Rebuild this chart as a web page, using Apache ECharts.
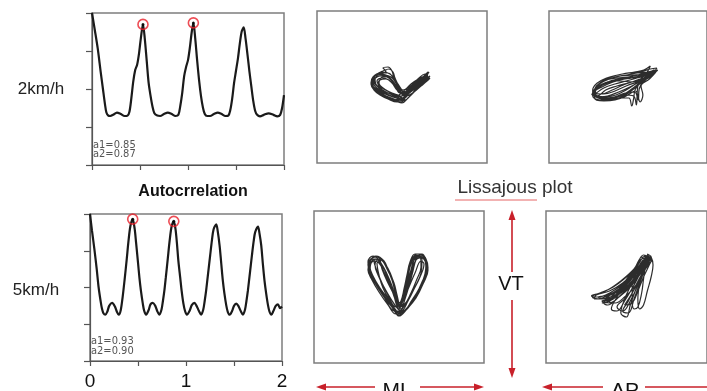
<!DOCTYPE html>
<html><head><meta charset="utf-8">
<script src="https://cdn.jsdelivr.net/npm/echarts@6/dist/echarts.min.js"></script>
<style>html,body{margin:0;padding:0;background:#fff}#c{width:707px;height:391px}</style>
</head><body><div id="c"></div>
<script>
// ---- Autocorrelation data (lag in s, coefficient) ----
const acf2Lag = [0,0.03,0.06,0.09,0.115,0.135,0.15,0.17,0.19,0.22,0.26,0.30,0.34,0.37,0.39,0.41,0.43,0.45,0.47,0.49,0.51,0.531,0.55,0.57,0.59,0.61,0.63,0.65,0.68,0.71,0.75,0.79,0.83,0.87,0.90,0.92,0.94,0.96,0.98,1.00,1.02,1.04,1.056,1.075,1.095,1.115,1.135,1.155,1.175,1.20,1.23,1.27,1.31,1.35,1.39,1.42,1.44,1.46,1.48,1.50,1.52,1.54,1.56,1.58,1.60,1.62,1.64,1.66,1.68,1.70,1.72,1.75,1.79,1.84,1.89,1.93,1.96,1.98,2.0];
const acf2Val = [1.0,0.77,0.53,0.23,-0.01,-0.2,-0.31,-0.35,-0.355,-0.34,-0.31,-0.33,-0.355,-0.35,-0.3,-0.12,0.10,0.25,0.32,0.47,0.68,0.85,0.66,0.37,0.08,-0.09,-0.23,-0.32,-0.35,-0.355,-0.33,-0.31,-0.33,-0.355,-0.34,-0.22,-0.05,0.17,0.29,0.38,0.55,0.76,0.87,0.67,0.38,0.12,-0.09,-0.24,-0.33,-0.355,-0.355,-0.33,-0.31,-0.33,-0.355,-0.35,-0.28,-0.13,0.08,0.24,0.40,0.60,0.76,0.81,0.66,0.45,0.23,0.03,-0.16,-0.29,-0.34,-0.36,-0.34,-0.32,-0.34,-0.36,-0.34,-0.25,-0.08];
const acf5Lag = [0,0.02,0.045,0.07,0.09,0.11,0.125,0.14,0.16,0.18,0.20,0.23,0.26,0.28,0.30,0.32,0.34,0.36,0.383,0.40,0.42,0.445,0.465,0.48,0.50,0.515,0.53,0.55,0.565,0.584,0.61,0.63,0.654,0.68,0.70,0.723,0.745,0.76,0.775,0.79,0.81,0.83,0.85,0.873,0.89,0.905,0.92,0.94,0.955,0.973,0.99,1.009,1.04,1.06,1.088,1.11,1.135,1.158,1.18,1.195,1.21,1.23,1.252,1.27,1.287,1.315,1.33,1.35,1.367,1.384,1.40,1.419,1.435,1.455,1.48,1.50,1.523,1.545,1.57,1.593,1.615,1.63,1.645,1.665,1.687,1.705,1.72,1.75,1.765,1.784,1.80,1.818,1.835,1.854,1.87,1.889,1.91,1.935,1.958,1.98,2.0];
const acf5Val = [1.0,0.78,0.53,0.25,0.0,-0.18,-0.29,-0.35,-0.37,-0.33,-0.25,-0.21,-0.26,-0.33,-0.37,-0.31,-0.13,0.10,0.39,0.62,0.83,0.93,0.80,0.61,0.34,0.13,-0.04,-0.22,-0.32,-0.37,-0.31,-0.23,-0.21,-0.25,-0.32,-0.37,-0.30,-0.18,-0.04,0.14,0.39,0.64,0.83,0.90,0.80,0.61,0.37,0.13,-0.05,-0.22,-0.32,-0.37,-0.31,-0.24,-0.21,-0.25,-0.32,-0.37,-0.30,-0.18,-0.04,0.19,0.44,0.64,0.79,0.86,0.77,0.57,0.33,0.09,-0.08,-0.24,-0.33,-0.37,-0.32,-0.25,-0.22,-0.25,-0.32,-0.37,-0.30,-0.18,-0.04,0.19,0.44,0.63,0.75,0.83,0.74,0.57,0.33,0.09,-0.08,-0.24,-0.33,-0.37,-0.32,-0.25,-0.23,-0.28,-0.26];
const peak2Lag = [0.531, 1.056];
const peak2Val = [0.85, 0.87];
const peak5Lag = [0.445, 0.873];
const peak5Val = [0.93, 0.90];
const lagTickLabels = ['0', '1', '2'];
const coefText2 = ['a1=0.85', 'a2=0.87'];
const coefText5 = ['a1=0.93', 'a2=0.90'];

// ---- Lissajous traces [horizontal, VT] ----
const lissML2 = [
 [0,-12],[-9,-10],[-19,-6],[-27,-1],[-31,4],[-29,10],[-22,14],[-14,14],[-8,8],[-4,0],[1,-6],[8,-3],[15,3],[21,8],[26,13],[23,10],[15,3],[7,-5],[1,-13],
 [-4,-14],[-14,-11],[-23,-6],[-29,0],[-30,7],[-26,12],[-19,16],[-13,18],[-9,15],[-7,9],[-3,1],[2,-5],[9,-1],[16,5],[22,10],[27,15],[22,8],[13,0],[5,-8],[-1,-15],
 [-8,-12],[-18,-8],[-26,-3],[-30,2],[-28,8],[-22,11],[-15,10],[-9,5],[-4,-2],[2,-8],[10,-4],[17,2],[23,7],[28,11],[22,5],[14,-2],[8,-9],[2,-14],
 [-2,-10],[-12,-7],[-21,-2],[-27,3],[-28,9],[-24,13],[-18,14],[-16,16],[-19,19],[-14,20],[-10,16],[-8,9],[-4,3],[1,-3],[7,0],[14,5],[20,9],[25,12],[20,7],[12,-1],[4,-9],
 [-5,-15],[-14,-12],[-22,-8],[-28,-3],[-31,3],[-29,9],[-23,13],[-16,12],[-10,7],[-5,0],[0,-7],[8,-3],[15,2],[21,6],[26,10],[23,13],[17,9],[10,2],[4,-7],[-1,-12],
 [-9,-10],[-18,-5],[-25,1],[-27,7],[-23,12],[-16,11],[-9,5],[-3,-3],[3,-8],[11,-3],[18,3],[24,8],[20,4],[13,-4],[6,-11],[0,-16],[-6,-13],
 [-3,-11],[-13,-8],[-22,-3],[-28,2],[-29,8],[-25,13],[-19,15],[-12,13],[-7,7],[-3,-1],[2,-5],[9,0],[16,6],[22,11],[26,15],[24,12],[17,6],[9,-3],[3,-11],
 [-6,-13],[-16,-9],[-24,-4],[-29,1],[-29,6],[-25,10],[-18,12],[-11,10],[-6,4],[-2,-4],[4,-9],[12,-5],[19,1],[25,6],[28,9],[24,6],[16,-1],[9,-8],[3,-13],
 [-2,-9],[-10,-6],[-18,-2],[-24,2],[-22,7],[-16,8],[-10,4],[-5,-3],[2,-7],[10,-1],[18,5],[25,10],[19,7],[11,1],[4,-6],
 [-4,-10],[-13,-5],[-21,0],[-25,6],[-20,9],[-13,7],[-7,1],[-2,-6],[6,-5],[13,0],[20,6],[26,11],[21,10],[14,5],[6,-2],[0,-9],
 [-7,-8],[-16,-3],[-23,4],[-19,10],[-11,10],[-6,4],[0,-3],[7,-2],[15,4],[23,11],[18,9],[9,3],[2,-4],[-3,-8]];
const lissAP2 = [
 [-37,-6],[-34,1],[-26,6],[-14,10],[-2,12],[10,14],[21,15],[29,17],[24,11],[14,5],[4,-2],[-6,-8],[-18,-12],[-30,-13],[-38,-9],
 [-38,-3],[-33,4],[-23,9],[-11,12],[1,14],[13,15],[24,18],[31,19],[26,12],[16,6],[8,-2],[6,-12],[4,-19],[1,-11],[-9,-11],[-22,-13],[-35,-10],
 [-37,-8],[-32,-1],[-22,4],[-10,7],[3,9],[15,11],[25,13],[20,8],[10,2],[0,-5],[-11,-10],[-23,-12],[-34,-10],
 [-35,-2],[-29,5],[-18,10],[-6,13],[7,15],[17,17],[24,21],[20,14],[12,6],[10,-4],[9,-18],[6,-9],[-4,-8],[-16,-11],[-28,-12],[-37,-7],
 [-39,-8],[-35,-1],[-26,3],[-15,6],[-3,8],[9,10],[21,13],[30,15],[23,8],[14,1],[16,-8],[13,-15],[8,-4],[-2,-9],[-14,-13],[-26,-14],[-36,-11],
 [-36,-4],[-31,3],[-20,8],[-8,11],[5,12],[17,13],[28,17],[22,11],[12,3],[2,-5],[-10,-11],[-24,-13],[-35,-9],
 [-37,-5],[-32,2],[-24,7],[-12,9],[0,10],[12,12],[23,14],[18,9],[8,3],[-2,-3],[-13,-8],[-25,-10],[-36,-8],
 [-38,-7],[-33,0],[-22,5],[-10,8],[2,10],[14,13],[26,15],[32,17],[27,13],[18,8],[12,-2],[11,-13],[7,-5],[-3,-6],[-15,-10],[-27,-11],[-37,-8],
 [-34,-6],[-26,-1],[-14,3],[-2,6],[10,9],[22,12],[30,15],[22,9],[10,5],[-2,1],[-14,-4],[-26,-7],[-35,-7],
 [-36,-5],[-28,0],[-16,5],[-4,8],[8,10],[20,13],[27,15],[19,10],[7,6],[-5,2],[-17,-3],[-29,-7],[-37,-6],
 [-33,-9],[-24,-3],[-12,1],[0,4],[12,7],[24,11],[14,6],[2,0],[-10,-5],[-22,-9],[-34,-10],
 [-35,-4],[-28,2],[-18,6],[-8,6],[4,5],[16,8],[28,14],[20,12],[8,9],[-4,9],[-14,7],[-26,3],[-36,-2]];
const lissML5 = [
 [-2,-26],[-12,-14],[-21,0],[-28,12],[-31,22],[-27,29],[-21,30],[-13,22],[-8,12],[-4,0],[-2,-12],[1,-20],[4,-10],[7,3],[10,16],[13,28],[19,33],[25,31],[28,23],[26,11],[20,-2],[12,-15],[3,-25],
 [-5,-24],[-15,-10],[-24,4],[-30,16],[-31,25],[-26,31],[-18,28],[-11,18],[-6,6],[-3,-6],[-1,-17],[2,-14],[5,-2],[8,12],[11,25],[16,33],[23,33],[27,27],[29,17],[25,5],[18,-8],[9,-20],[1,-28],
 [0,-28],[-9,-17],[-18,-4],[-25,8],[-29,18],[-28,27],[-23,31],[-15,26],[-10,15],[-5,4],[-2,-8],[1,-18],[4,-7],[8,6],[11,20],[15,30],[22,32],[27,28],[29,19],[26,8],[19,-6],[10,-19],[1,-27],
 [-4,-22],[-13,-11],[-22,1],[-28,13],[-30,21],[-26,28],[-18,27],[-12,18],[-7,7],[-4,-5],[-2,-16],[2,-15],[6,-3],[9,10],[12,23],[17,30],[24,29],[28,21],[27,10],[21,-1],[14,-12],[6,-23],
 [-3,-27],[-11,-18],[-20,-5],[-27,7],[-31,17],[-29,26],[-24,30],[-18,24],[-12,13],[-7,1],[-3,-12],[2,-22],[6,-12],[10,1],[14,16],[17,27],[21,31],[26,27],[27,16],[23,5],[16,-10],[7,-23],
 [-1,-25],[-10,-13],[-19,-1],[-26,11],[-29,20],[-25,26],[-20,24],[-15,15],[-10,4],[-5,-9],[-1,-20],[4,-11],[8,3],[12,17],[15,27],[20,30],[26,26],[28,15],[24,3],[17,-11],[8,-22],[0,-29],
 [-6,-21],[-16,-7],[-25,6],[-29,16],[-28,24],[-23,28],[-17,22],[-12,11],[-8,0],[-4,-12],[0,-19],[5,-9],[9,5],[13,19],[16,29],[22,32],[27,25],[26,13],[21,0],[13,-13],[4,-24],
 [-1,-22],[-8,-12],[-15,0],[-21,12],[-24,22],[-22,27],[-18,22],[-13,10],[-7,-2],[-3,-14],[1,-20],[5,-8],[9,6],[13,18],[17,27],[21,29],[22,20],[18,8],[12,-6],[5,-18],
 [-3,-20],[-11,-8],[-17,4],[-22,16],[-25,26],[-20,28],[-17,18],[-12,6],[-6,-6],[-2,-16],[3,-18],[7,-6],[11,8],[15,22],[19,31],[23,27],[22,14],[16,0],[9,-14],[2,-24],
 [-2,-24],[-9,-14],[-16,-1],[-20,12],[-22,24],[-19,25],[-15,14],[-9,2],[-4,-10],[0,-22],[4,-14],[10,0],[16,14],[22,26],[25,23],[21,10],[14,-4],[6,-18],[0,-26]];
const lissAP5 = [
 [22,30],[12,20],[0,10],[-14,0],[-28,-6],[-37,-9],[-30,-10],[-16,-5],[-2,4],[10,14],[18,24],[25,28],
 [20,28],[10,16],[-2,4],[-14,-8],[-24,-16],[-20,-18],[-8,-10],[4,0],[14,12],[22,22],[27,27],
 [18,32],[10,20],[0,6],[-10,-10],[-16,-22],[-10,-24],[-2,-14],[8,2],[16,16],[24,26],
 [21,30],[14,18],[6,4],[-2,-12],[-6,-26],[0,-30],[4,-18],[10,-2],[16,12],[22,24],[26,29],
 [16,28],[8,16],[-4,4],[-18,-4],[-32,-8],[-34,-12],[-22,-10],[-10,-4],[4,8],[14,18],[20,26],
 [24,29],[20,20],[18,8],[16,-6],[12,-20],[8,-22],[6,-12],[6,2],[10,14],[16,24],[22,31],
 [19,27],[10,14],[-2,0],[-16,-12],[-26,-14],[-18,-16],[-6,-8],[6,4],[14,16],[20,25],
 [23,32],[14,22],[4,10],[-8,-2],[-20,-8],[-30,-10],[-20,-12],[-6,-6],[8,6],[18,20],[26,30],
 [17,30],[8,18],[-6,6],[-20,-3],[-34,-8],[-36,-10],[-26,-12],[-12,-8],[2,2],[12,14],[19,24],
 [25,27],[18,16],[10,2],[2,-14],[-4,-24],[2,-26],[8,-12],[14,4],[20,18],[26,26],
 [20,31],[12,22],[2,10],[-10,-4],[-22,-12],[-12,-16],[-2,-10],[10,2],[18,16],[24,28],
 [22,33],[26,30],[28,22],[26,10],[22,-4],[18,-18],[14,-22],[12,-12],[14,4],[18,18],[22,30],
 [24,30],[15,20],[4,8],[-8,-4],[-18,-14],[-26,-16],[-14,-12],[-2,-2],[10,10],[20,22],
 [21,28],[14,16],[8,2],[0,-10],[-10,-20],[-4,-24],[4,-14],[12,2],[18,16],[23,27],
 [18,26],[10,14],[0,2],[-12,-6],[-24,-10],[-14,-10],[-4,-4],[8,8],[16,20],[22,29],
 [26,31],[20,22],[14,8],[6,-6],[-2,-18],[6,-16],[12,-4],[18,10],[24,22],[27,28]];

const zip = (a, b) => a.map((v, i) => [v, b[i]]);

const chart = echarts.init(document.getElementById('c'), null, {renderer: 'canvas'});

const frame = {show: true, borderColor: '#7d7d7d', borderWidth: 1.5, backgroundColor: '#fff'};
const grids = [
  Object.assign({left: 92, top: 13, width: 192, height: 152}, frame),
  Object.assign({left: 90, top: 214, width: 192, height: 152}, frame),
  Object.assign({left: 317, top: 11, width: 170, height: 152}, frame),
  Object.assign({left: 549, top: 11, width: 170, height: 152}, frame),
  Object.assign({left: 314, top: 211, width: 170, height: 152}, frame),
  Object.assign({left: 546, top: 211, width: 170, height: 152}, frame)
];

function acfX(gi, showLabels) {
  return {gridIndex: gi, type: 'value', min: 0, max: 2, interval: 0.5,
    axisLine: {show: true, onZero: false, lineStyle: {color: '#555', width: 1.2}},
    axisTick: {show: true, length: 5, lineStyle: {color: '#555', width: 1.2}},
    splitLine: {show: false},
    axisLabel: {show: showLabels, margin: 11, fontSize: 19, color: '#111', fontFamily: 'Liberation Sans',
      formatter: v => (Math.abs(v - Math.round(v)) < 1e-9 ? lagTickLabels[Math.round(v)] : '')}};
}
function acfY(gi) {
  return {gridIndex: gi, type: 'value', min: -1, max: 1, interval: 0.5,
    axisLine: {show: true, onZero: false, lineStyle: {color: '#555', width: 1.2}},
    axisTick: {show: true, length: 6, lineStyle: {color: '#555', width: 1.2}},
    splitLine: {show: false}, axisLabel: {show: false}};
}
function lissX(gi) { return {gridIndex: gi, type: 'value', min: -85, max: 85, show: false}; }
function lissY(gi) { return {gridIndex: gi, type: 'value', min: -76, max: 76, show: false}; }

function acfLine(gi, lag, val) {
  return {type: 'line', xAxisIndex: gi, yAxisIndex: gi, data: zip(lag, val), showSymbol: false,
    smooth: 0.3, lineStyle: {color: '#1a1a1a', width: 2.2}, z: 3};
}
function peakMarks(gi, lag, val) {
  return [
    {type: 'scatter', xAxisIndex: gi, yAxisIndex: gi, data: zip(lag, val), symbolSize: 10,
      itemStyle: {color: 'rgba(0,0,0,0)', borderColor: '#e8202a', borderWidth: 1.6}, z: 5},
    {type: 'scatter', xAxisIndex: gi, yAxisIndex: gi, data: zip(lag, val), symbolSize: 3,
      itemStyle: {color: '#000'}, z: 6}
  ];
}
function lissLine(gi, pts) {
  return {type: 'line', xAxisIndex: gi, yAxisIndex: gi, data: pts, showSymbol: false, smooth: 0.4,
    lineStyle: {color: '#151515', width: 1.2, opacity: 0.9}, z: 3};
}

const redArrow = '#c8202a';
function hLine(x1, x2, y) { return {type: 'line', shape: {x1, y1: y, x2, y2: y}, style: {stroke: redArrow, lineWidth: 1.6}}; }
function vLine(x, y1, y2) { return {type: 'line', shape: {x1: x, y1, x2: x, y2}, style: {stroke: redArrow, lineWidth: 1.6}}; }
function head(pts) { return {type: 'polygon', shape: {points: pts}, style: {fill: redArrow}}; }
function txt(x, y, text, font, fill, align) {
  return {type: 'text', x, y, style: {text, font, fill, align: align || 'center', verticalAlign: 'middle'}};
}
const wave = [];
for (let x = 455; x <= 537; x += 2) wave.push([x, (x / 2) % 2 === 0 ? 198 : 200]);

const option = {
  animation: false,
  backgroundColor: '#fff',
  grid: grids,
  xAxis: [acfX(0, false), acfX(1, true), lissX(2), lissX(3), lissX(4), lissX(5)],
  yAxis: [acfY(0), acfY(1), lissY(2), lissY(3), lissY(4), lissY(5)],
  series: [
    acfLine(0, acf2Lag, acf2Val),
    acfLine(1, acf5Lag, acf5Val),
    ...peakMarks(0, peak2Lag, peak2Val),
    ...peakMarks(1, peak5Lag, peak5Val),
    lissLine(2, lissML2),
    lissLine(3, lissAP2),
    lissLine(4, lissML5),
    lissLine(5, lissAP5)
  ],
  graphic: [
    txt(41, 89, '2km/h', '17px "Liberation Sans", Arial, sans-serif', '#222'),
    txt(36, 290, '5km/h', '17px "Liberation Sans", Arial, sans-serif', '#222'),
    txt(193, 192, 'Autocrrelation', 'bold 16px "Liberation Sans", Arial, sans-serif', '#111'),
    txt(515, 188, 'Lissajous plot', '19px "Liberation Sans", Arial, sans-serif', '#333'),
    {type: 'polyline', shape: {points: wave}, style: {stroke: '#e04040', lineWidth: 0.8, fill: null}},
    txt(93, 145, coefText2[0], '11px "Liberation Sans Narrow", "DejaVu Sans Condensed", sans-serif', '#555', 'left'),
    txt(93, 154.5, coefText2[1], '11px "Liberation Sans Narrow", "DejaVu Sans Condensed", sans-serif', '#555', 'left'),
    txt(91, 341, coefText5[0], '11px "Liberation Sans Narrow", "DejaVu Sans Condensed", sans-serif', '#555', 'left'),
    txt(91, 351, coefText5[1], '11px "Liberation Sans Narrow", "DejaVu Sans Condensed", sans-serif', '#555', 'left'),
    vLine(512, 218, 272), vLine(512, 300, 370),
    head([[512, 210], [508.5, 220], [515.5, 220]]),
    head([[512, 378], [508.5, 368], [515.5, 368]]),
    txt(511, 284, 'VT', '20px "Liberation Sans", Arial, sans-serif', '#111'),
    hLine(324, 375, 387), hLine(420, 476, 387),
    head([[316, 387], [326, 383.5], [326, 390.5]]),
    head([[484, 387], [474, 383.5], [474, 390.5]]),
    txt(397, 391, 'ML', '21px "Liberation Sans", Arial, sans-serif', '#111'),
    hLine(550, 603, 387), hLine(645, 712, 387),
    head([[542, 387], [552, 383.5], [552, 390.5]]),
    txt(625, 391, 'AP', '21px "Liberation Sans", Arial, sans-serif', '#111')
  ]
};
chart.setOption(option);
</script>
</body></html>
